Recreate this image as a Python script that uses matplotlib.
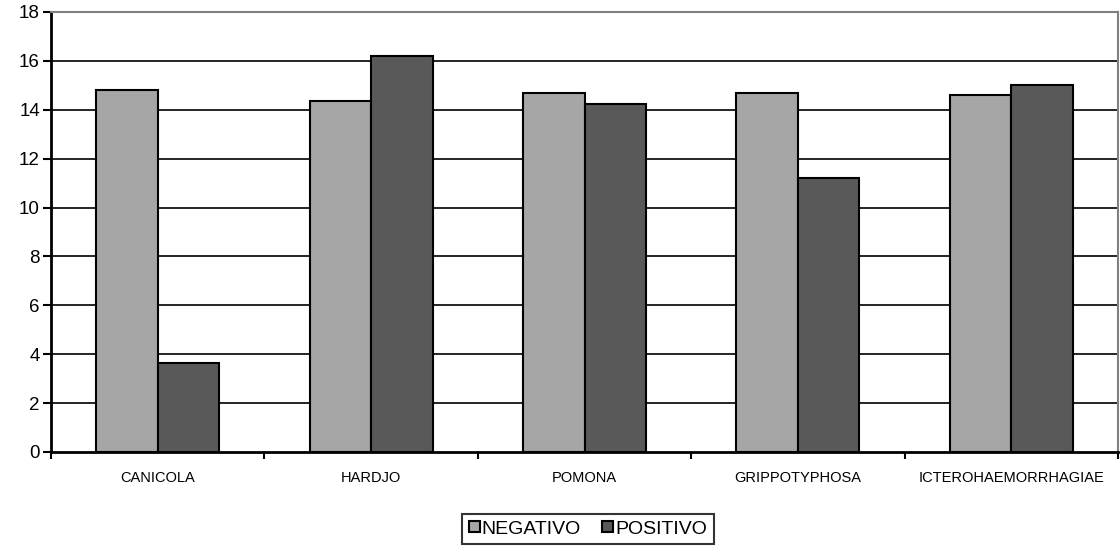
import matplotlib.pyplot as plt
import numpy as np

plt.rcParams['font.family'] = ['Liberation Sans', 'DejaVu Sans']

# serovars and mean values per result group
serovars = ['CANICOLA', 'HARDJO', 'POMONA', 'GRIPPOTYPHOSA', 'ICTEROHAEMORRHAGIAE']
negativo = [14.8, 14.35, 14.7, 14.7, 14.6]
positivo = [3.65, 16.2, 14.25, 11.2, 15.0]
yticks = [0, 2, 4, 6, 8, 10, 12, 14, 16, 18]

fig = plt.figure(figsize=(11.2, 5.48), dpi=100)
ax = fig.add_axes([51 / 1120, 1 - 452 / 548, 1067 / 1120, 440 / 548])

x = np.arange(len(serovars))
w = 0.288
ax.bar(x - w / 2, negativo, w, color='#a6a6a6', edgecolor='black', linewidth=1.5,
       label='NEGATIVO', zorder=3)
ax.bar(x + w / 2, positivo, w, color='#595959', edgecolor='black', linewidth=1.5,
       label='POSITIVO', zorder=3)

ax.set_xlim(-0.5, len(serovars) - 0.5)
ax.set_ylim(0, 18)
ax.set_yticks(yticks)
ax.tick_params(axis='y', labelsize=13.5, length=6, width=1.5, direction='out', pad=2)

# category labels between boundary ticks
ax.set_xticks(np.arange(len(serovars) + 1) - 0.5)
ax.set_xticklabels([])
ax.set_xticks(x, minor=True)
ax.set_xticklabels(serovars, minor=True, fontsize=10.5)
ax.tick_params(axis='x', which='major', length=5, width=1.5, direction='out')
ax.tick_params(axis='x', which='minor', length=0, pad=14)

# horizontal gridlines
for v in yticks[1:-1]:
    ax.axhline(v, color='black', linewidth=1.2, zorder=1)

ax.spines['left'].set_linewidth(2)
ax.spines['bottom'].set_linewidth(2)
ax.spines['top'].set_color('#808080')
ax.spines['top'].set_linewidth(1.5)
ax.spines['right'].set_color('#808080')
ax.spines['right'].set_linewidth(1.5)

leg = ax.legend(loc='center', bbox_to_anchor=(588 / 1120, 1 - 529 / 548),
                bbox_transform=fig.transFigure, ncol=2, fontsize=14,
                frameon=True, fancybox=False, edgecolor='black',
                handlelength=0.55, handleheight=0.55, handletextpad=0.1,
                columnspacing=1.1, borderpad=0.35, borderaxespad=0)
leg.get_frame().set_linewidth(1.5)

fig.savefig('out.png', dpi=100)
